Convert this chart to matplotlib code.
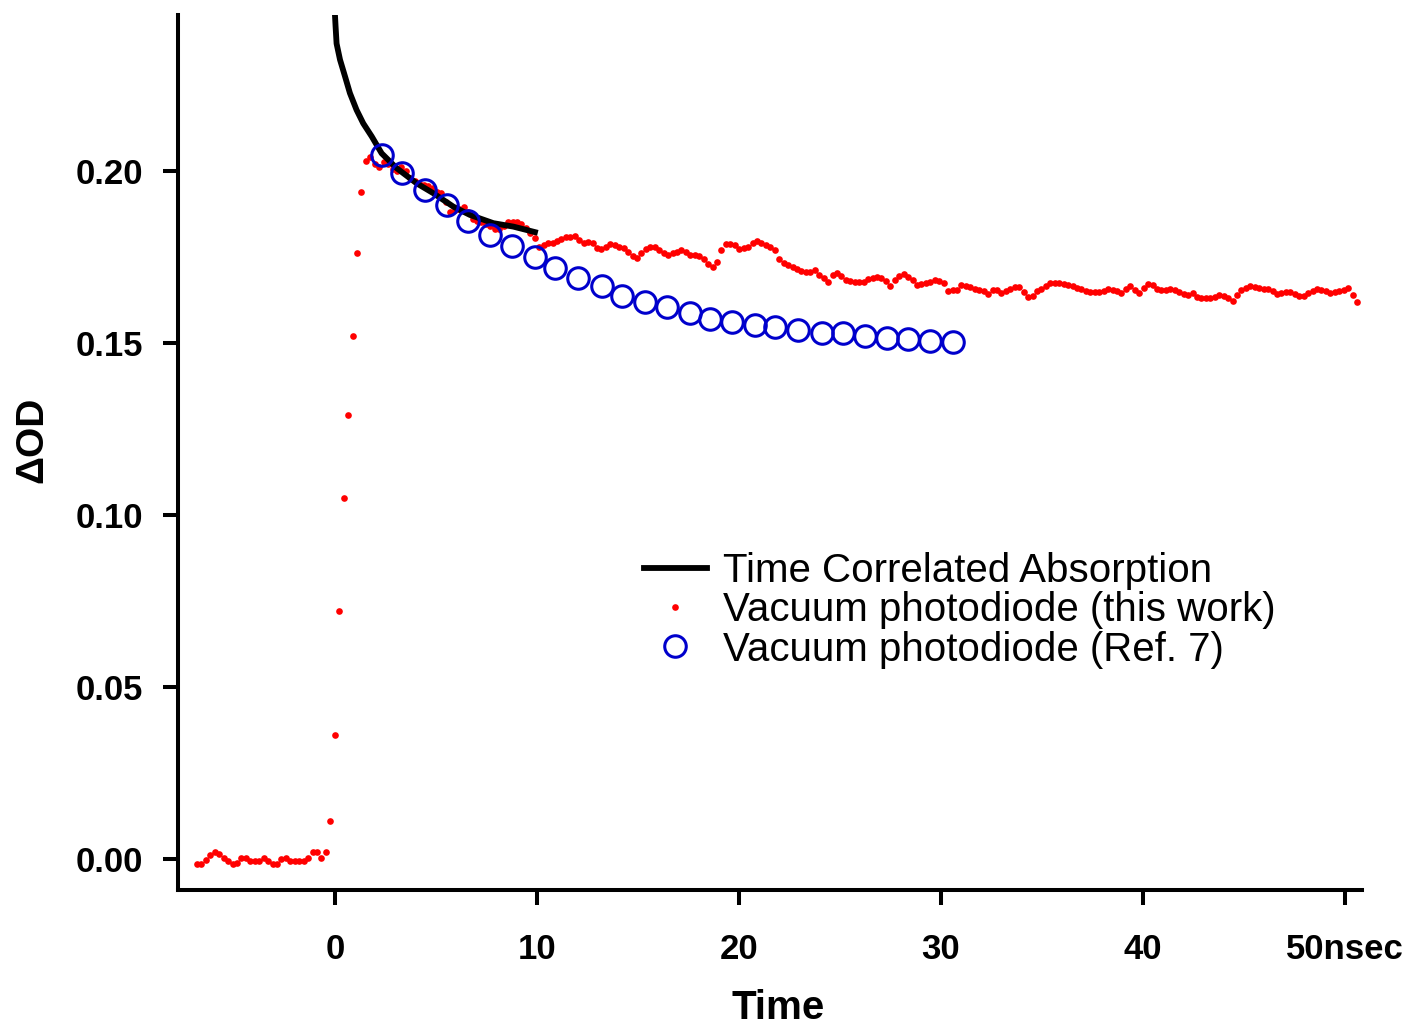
import matplotlib as mpl
mpl.use("Agg")
import matplotlib.pyplot as plt
import numpy as np

plt.rcParams['font.family'] = ['Liberation Sans', 'DejaVu Sans']

# Time correlated absorption (black line)
tca_t = [0.0, 0.03, 0.08, 0.25, 0.5, 0.74, 1.07, 1.4, 1.82, 2.31, 3.05, 4.04, 4.87, 5.86, 6.68, 7.84, 8.83, 9.9]
tca_od = [0.2453, 0.242, 0.237, 0.2323, 0.2274, 0.2226, 0.2177, 0.2138, 0.21, 0.2051, 0.2008, 0.1964,
          0.1935, 0.1896, 0.1872, 0.1848, 0.1838, 0.1822]

# Vacuum photodiode (this work), sampled every 0.22 ns from -6.83 ns
vpd_t0 = -6.83
vpd_dt = 0.22
vpd_od = [
    -0.0013, -0.0013, -0.0003, 0.0012, 0.0021, 0.0015, 0.0003, -0.0005, -0.0013, -0.0011,
    0.0004, 0.0004, -0.0005, -0.0005, -0.0005, 0.0004, -0.0005, -0.0013, -0.0013, 0.0000,
    0.0004, -0.0005, -0.0005, -0.0005, -0.0005, 0.0004, 0.0021, 0.0021, 0.0004, 0.0021,
    0.011, 0.036, 0.072, 0.105, 0.129, 0.152, 0.176, 0.194, 0.203, 0.204,
    0.202, 0.201, 0.2025, 0.202, 0.2005, 0.200, 0.201, 0.200, 0.198, 0.197,
    0.1965, 0.196, 0.1955, 0.195, 0.194, 0.1935, 0.191, 0.188, 0.1885, 0.189,
    0.1895, 0.188, 0.186, 0.1855, 0.185, 0.1845, 0.184, 0.183, 0.183, 0.184,
    0.185, 0.185, 0.185, 0.1845, 0.1835, 0.182, 0.1805, 0.178, 0.1785, 0.179,
    0.179, 0.1795, 0.1803, 0.1807, 0.1807, 0.181, 0.180, 0.179, 0.1792, 0.179,
    0.1775, 0.1773, 0.178, 0.1788, 0.1786, 0.178, 0.1775, 0.1765, 0.1752, 0.1746,
    0.176, 0.1772, 0.178, 0.178, 0.177, 0.176, 0.1756, 0.176, 0.1765, 0.177,
    0.1765, 0.1756, 0.1756, 0.1753, 0.1745, 0.173, 0.1722, 0.1736, 0.177, 0.1788,
    0.1788, 0.1785, 0.1773, 0.1775, 0.178, 0.179, 0.1797, 0.179, 0.1785, 0.178,
    0.177, 0.1745, 0.1733, 0.1725, 0.1722, 0.1715, 0.171, 0.1705, 0.1707, 0.1712,
    0.1698, 0.1688, 0.1678, 0.1698, 0.1704, 0.1695, 0.1684, 0.168, 0.1678, 0.1678,
    0.1678, 0.1685, 0.169, 0.1691, 0.1688, 0.168, 0.1664, 0.1682, 0.1695, 0.170,
    0.1692, 0.1682, 0.1669, 0.1672, 0.1675, 0.1678, 0.1682, 0.168, 0.1673, 0.165,
    0.1655, 0.1655, 0.1669, 0.1666, 0.1662, 0.1656, 0.1655, 0.1652, 0.1642, 0.1654,
    0.1655, 0.1645, 0.165, 0.1657, 0.1662, 0.1662, 0.1648, 0.1633, 0.1635, 0.1651,
    0.1656, 0.1664, 0.1673, 0.1673, 0.1673, 0.167, 0.1667, 0.1664, 0.166, 0.1656,
    0.1652, 0.1649, 0.1647, 0.1647, 0.1652, 0.1656, 0.1654, 0.165, 0.1646, 0.1656,
    0.1666, 0.1655, 0.1646, 0.166, 0.167, 0.1667, 0.1657, 0.1655, 0.1655, 0.1657,
    0.1655, 0.1647, 0.1642, 0.164, 0.1646, 0.1632, 0.163, 0.163, 0.163, 0.1633,
    0.1639, 0.1636, 0.163, 0.1623, 0.164, 0.1655, 0.1661, 0.1664, 0.1662, 0.1659,
    0.1657, 0.1657, 0.165, 0.1642, 0.1646, 0.1647, 0.1647, 0.1642, 0.1636, 0.1635,
    0.1644, 0.165, 0.1657, 0.1654, 0.165, 0.1646, 0.1647, 0.1651, 0.1655, 0.1659,
    0.1638, 0.1618,
]
vpd_t = vpd_t0 + vpd_dt * np.arange(len(vpd_od))

# Vacuum photodiode (Ref. 7)
ref_t = [2.31, 3.30, 4.46, 5.53, 6.60, 7.67, 8.75, 9.90, 10.89, 12.04, 13.20, 14.19, 15.35, 16.42,
         17.57, 18.56, 19.64, 20.79, 21.78, 22.94, 24.09, 25.16, 26.24, 27.31, 28.38, 29.46, 30.59]
ref_od = [0.2047, 0.1993, 0.1945, 0.1901, 0.1853, 0.1814, 0.1782, 0.175, 0.1717, 0.1688, 0.1664,
          0.1637, 0.162, 0.1604, 0.1588, 0.157, 0.1562, 0.1552, 0.1546, 0.1538, 0.153, 0.1528,
          0.152, 0.1514, 0.1511, 0.1507, 0.1503]

xticks = [0, 10, 20, 30, 40, 50]
xticklabels = ['0', '10', '20', '30', '40', '50nsec']
yticks = [0.00, 0.05, 0.10, 0.15, 0.20]

fig = plt.figure(figsize=(14.08, 10.27), dpi=100)
ax = fig.add_axes([178 / 1408, 1 - 890 / 1027, (1362 - 178) / 1408, (890 - 15) / 1027])

ax.plot(tca_t, tca_od, color='black', lw=4.2, label='Time Correlated Absorption', zorder=3)
ax.plot(vpd_t, vpd_od, 'o', color='red', ms=4.8, mec='none', label='Vacuum photodiode (this work)', zorder=2)
ax.plot(ref_t, ref_od, 'o', mfc='none', mec='#0000cc', ms=15.5, mew=2.2, label='Vacuum photodiode (Ref. 7)', zorder=4)

ax.set_xlim(-7.77, 50.84)
ax.set_ylim(-0.009, 0.2453)
ax.set_xticks(xticks)
ax.set_xticklabels(xticklabels)
ax.set_yticks(yticks)
ax.set_yticklabels(['%.2f' % v for v in yticks])

for s in ['top', 'right']:
    ax.spines[s].set_visible(False)
for s in ['left', 'bottom']:
    ax.spines[s].set_linewidth(2.9)
ax.tick_params(direction='out', length=11, width=2.9, labelsize=25, pad=14)
ax.tick_params(axis='x', pad=20)
for lab in ax.get_xticklabels() + ax.get_yticklabels():
    lab.set_fontweight('bold')

ax.set_xlabel('Time', fontsize=29, fontweight='bold')
ax.set_ylabel('\u0394OD', fontsize=28, fontweight='bold')
ax.xaxis.set_label_coords((778 - 178) / 1184, -(1008 - 890) / 875, transform=ax.transAxes)
ax.yaxis.set_label_coords(-(178 - 32) / 1184, (890 - 440) / 875, transform=ax.transAxes)
ax.xaxis.label.set_va('center')
ax.yaxis.label.set_va('center')

ax.legend(loc='upper left', bbox_to_anchor=(624 / 1408, 1 - 532 / 1027), bbox_transform=fig.transFigure,
          frameon=False, fontsize=29, borderpad=0, handlelength=1.55, handletextpad=0.4,
          labelspacing=0.03, numpoints=1)

fig.savefig('out.png', dpi=100)
